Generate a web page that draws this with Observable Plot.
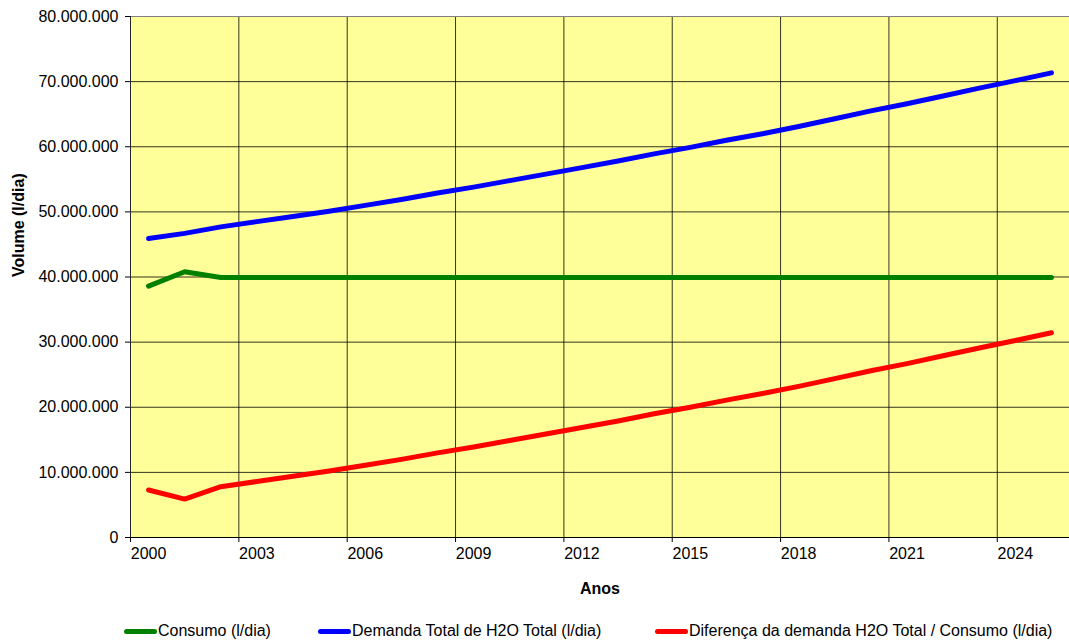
<!DOCTYPE html>
<html><head><meta charset="utf-8">
<script src="https://cdn.jsdelivr.net/npm/d3@7"></script>
<script src="https://cdn.jsdelivr.net/npm/@observablehq/plot@0.6"></script>
<style>
html,body{margin:0;padding:0;background:#fff;}
#chart{width:1069px;height:641px;position:relative;font-family:"Liberation Sans",Arial,sans-serif;}
#chart svg{display:block;}
#legend{position:relative;height:36px;font-size:16px;color:#000;}
.item{position:absolute;top:17px;height:18px;display:flex;align-items:center;white-space:nowrap;line-height:18px;}
.sw{width:33px;height:5px;border-radius:2.5px;margin-right:1px;}
</style></head><body><div id="chart"></div>
<script>
const years = [2000,2001,2002,2003,2004,2005,2006,2007,2008,2009,2010,2011,2012,2013,2014,2015,2016,2017,2018,2019,2020,2021,2022,2023,2024,2025];
const consumo = [38.6e6,40.8e6,39.92e6,39.92e6,39.92e6,39.92e6,39.92e6,39.92e6,39.92e6,39.92e6,39.92e6,39.92e6,39.92e6,39.92e6,39.92e6,39.92e6,39.92e6,39.92e6,39.92e6,39.92e6,39.92e6,39.92e6,39.92e6,39.92e6,39.92e6,39.92e6];
const demanda = [45.9e6,46.7e6,47.7e6,48.5e6,49.3e6,50.1e6,51.0e6,51.9e6,52.9e6,53.8e6,54.8e6,55.8e6,56.8e6,57.8e6,58.9e6,59.9e6,61.0e6,62.0e6,63.1e6,64.3e6,65.5e6,66.6e6,67.8e6,69.0e6,70.15e6,71.35e6];
const diferenca = [7.3e6,5.9e6,7.8e6,8.6e6,9.4e6,10.2e6,11.1e6,12.0e6,13.0e6,13.9e6,14.9e6,15.9e6,16.9e6,17.9e6,19.0e6,20.0e6,21.1e6,22.1e6,23.2e6,24.4e6,25.6e6,26.7e6,27.9e6,29.1e6,30.25e6,31.45e6];
const seriesNames = ["Consumo (l/dia)","Demanda Total de H2O Total (l/dia)","Diferença da demanda H2O Total / Consumo (l/dia)"];
const seriesColors = ["#008000","#0000FF","#FF0000"];
const xTickLabels = [2000,2003,2006,2009,2012,2015,2018,2021,2024];
const yTicks = [0,10e6,20e6,30e6,40e6,50e6,60e6,70e6,80e6];
const xLabel = "Anos";
const yLabel = "Volume (l/dia)";

const seriesValues = [consumo, demanda, diferenca];
const rows = [];
seriesValues.forEach((vals, s) => years.forEach((yr, i) => rows.push({year: yr, value: vals[i], series: seriesNames[s]})));

const boundaries = xTickLabels.map(t => t - 0.5);
const xDomain = [years[0] - 0.5, years[years.length - 1] + 0.5];
const ptBR = d3.formatLocale({decimal: ",", thousands: ".", grouping: [3], currency: ["R$", ""]});
const fmt = ptBR.format(",d");

const chart = Plot.plot({
  width: 1069, height: 605,
  marginLeft: 130, marginRight: 0, marginTop: 16, marginBottom: 68,
  style: {fontFamily: "'Liberation Sans', Arial, sans-serif", fontSize: "16px", color: "#000", background: "#fff"},
  x: {type: "linear", domain: xDomain},
  y: {domain: [yTicks[0], yTicks[yTicks.length - 1]]},
  color: {domain: seriesNames, range: seriesColors},
  marks: [
    Plot.frame({fill: "#FFFF99", stroke: null}),
    Plot.ruleY(yTicks.slice(1), {stroke: "#000", strokeOpacity: 0.8, strokeWidth: 1}),
    Plot.ruleX(boundaries.slice(1), {stroke: "#000", strokeOpacity: 0.8, strokeWidth: 1}),
    Plot.frame({stroke: "#808080", strokeWidth: 1}),
    Plot.ruleX([xDomain[0]], {stroke: "#000", strokeOpacity: 0.7}),
    Plot.ruleY([0], {stroke: "#000"}),
    Plot.line(rows, {x: "year", y: "value", z: "series", stroke: "series", strokeWidth: 5, strokeLinecap: "round", strokeLinejoin: "round"}),
    Plot.axisY({ticks: yTicks, tickFormat: fmt, tickSize: 5, tickPadding: 7, label: null, fontSize: 16}),
    Plot.axisX({ticks: xTickLabels, tickFormat: d => String(d), tickSize: 0, tickPadding: 10, label: null, fontSize: 16}),
    Plot.axisX({ticks: boundaries.concat([xDomain[0]]), tickFormat: () => "", tickSize: 5, label: null}),
    Plot.text([xLabel], {frameAnchor: "bottom", dy: 51, lineAnchor: "middle", fontWeight: "bold", fontSize: 16}),
    Plot.text([yLabel], {frameAnchor: "left", dx: -112, rotate: -90, lineAnchor: "middle", fontWeight: "bold", fontSize: 16})
  ]
});
document.getElementById("chart").appendChild(chart);

const legendLefts = [124, 318, 655];
const legend = document.createElement("div");
legend.id = "legend";
seriesNames.forEach((name, i) => {
  const it = document.createElement("div");
  it.className = "item";
  it.style.left = legendLefts[i] + "px";
  const sw = document.createElement("span");
  sw.className = "sw";
  sw.style.background = seriesColors[i];
  const tx = document.createElement("span");
  tx.textContent = name;
  it.appendChild(sw); it.appendChild(tx);
  legend.appendChild(it);
});
document.getElementById("chart").appendChild(legend);
</script></body></html>
